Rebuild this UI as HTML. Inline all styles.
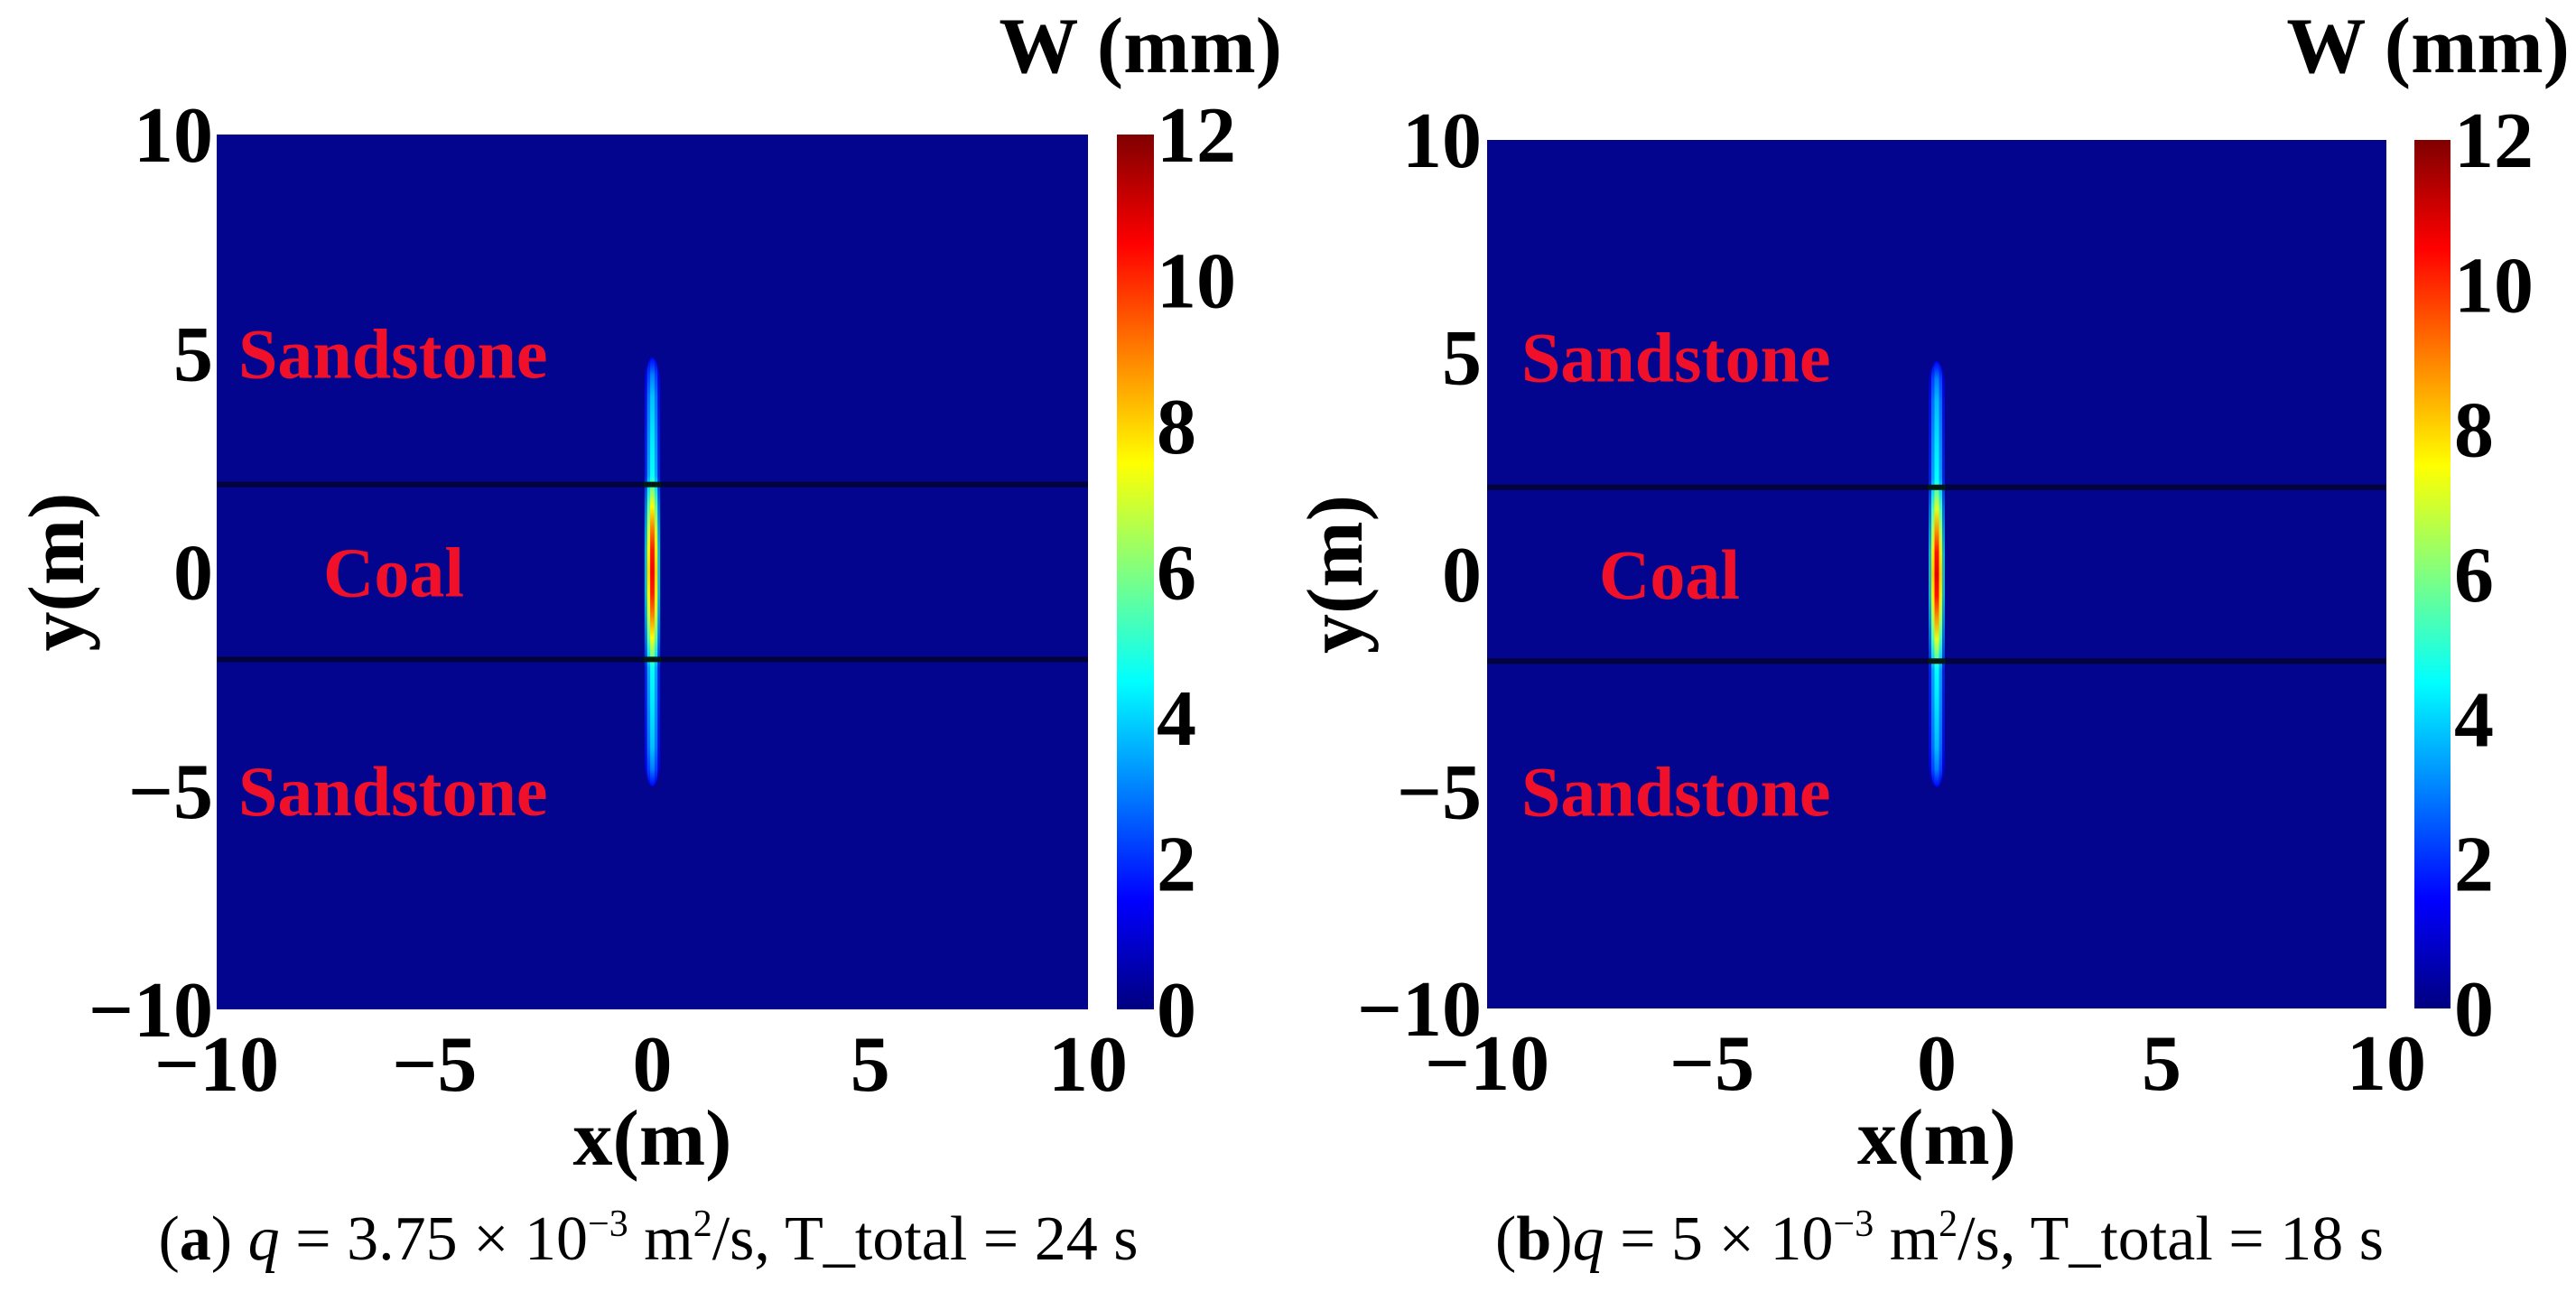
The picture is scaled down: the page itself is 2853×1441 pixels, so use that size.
<!DOCTYPE html>
<html><head><meta charset="utf-8"><style>
html,body{margin:0;padding:0;background:#fff;}
svg{display:block;}
.tk{font-family:"Liberation Serif",serif;font-weight:bold;font-size:88px;fill:#000;}
.lab{font-family:"Liberation Serif",serif;font-weight:bold;fill:#f0102a;font-size:78px;}
.cap{font-family:"Liberation Serif",serif;font-size:70px;fill:#000;}
</style></head><body>
<svg id="fig" width="2853" height="1441" viewBox="0 0 2853 1441" xmlns="http://www.w3.org/2000/svg">
<defs id="defs"></defs>
</svg>
<script>
// ---- data ----
const xTicks = [-10, -5, 0, 5, 10];
const yTicks = [-10, -5, 0, 5, 10];
const cbTicks = [0, 2, 4, 6, 8, 10, 12];
const layerBounds = [-2, 2];
const profYA = [-4.9, -4.5, -4, -3, -2.2, -2, -1.5, -1, -0.5, 0, 0.5, 1, 1.5, 2, 2.2, 3, 4, 4.5, 4.9];
const profWA = [1.5, 3, 3.8, 4.3, 4.6, 5.5, 7.5, 9, 10.2, 10.6, 10.2, 9, 7.5, 5.5, 4.6, 4.3, 3.8, 3, 1.5];
const profYB = [-4.9, -4.5, -4, -3, -2.2, -2, -1.5, -1, -0.5, 0, 0.5, 1, 1.5, 2, 2.2, 3, 4, 4.5, 4.9];
const profWB = [1.5, 3, 3.7, 4.2, 4.5, 5.3, 7.2, 8.8, 10.3, 10.8, 10.3, 8.8, 7.2, 5.3, 4.5, 4.2, 3.7, 3, 1.5];

const NS = "http://www.w3.org/2000/svg";
const svg = document.getElementById('fig');
const defs = document.getElementById('defs');
function mk(tag, attrs, parent){const e=document.createElementNS(NS,tag);for(const k in attrs)e.setAttribute(k,attrs[k]);(parent||svg).appendChild(e);return e;}
function jet(v){ // v in [0,12]
  let t=Math.max(0,Math.min(1,v/12));
  const f=x=>Math.max(0,Math.min(1,1.5-Math.abs(4*t-x)));
  const r=f(3),g=f(2),b=f(1);
  return `rgb(${Math.round(r*255)},${Math.round(g*255)},${Math.round(b*255)})`;
}
let gid=0;
function panel(cfg){
  const {L,R,T,B,cbL,cbR,cbLabX,yLabX,yTitleX,sandX,coalX,title,titleR,capX,profY,profW,key}=cfg;
  const sx=v=>L+(v+10)/20*(R-L);
  const sy=v=>B-(v+10)/20*(B-T);
  const g=mk('g',{});
  
  
  const bg=mk('rect',{x:L,y:T,width:R-L,height:B-T,fill:'#03058e'},g);
  
  
  layerBounds.forEach((b,i)=>{
    const ln=mk('line',{x1:L,x2:R,y1:sy(b),y2:sy(b),stroke:'#02033a',"stroke-width":6},g);
    
    
  });
  const layers=[[0.36,0.45,0.7],[0.24,0.75,1],[0.1,1,1]];
  const y0=profY[0],y1=profY[profY.length-1];
  layers.forEach((ly,li)=>{
    const id='gr'+(gid++);
    const lg=mk('linearGradient',{id:id,x1:0,y1:0,x2:0,y2:1},defs);
    for(let i=profY.length-1;i>=0;i--){
      const yy=profY[i];
      mk('stop',{offset:((y1-yy)/(y1-y0)).toFixed(4),"stop-color":jet(profW[i]*ly[1]),"stop-opacity":ly[2]},lg);
    }
    const w=ly[0]*(R-L)/20;
    const r=mk('rect',{x:sx(0)-w/2,y:sy(y1),width:w,height:sy(y0)-sy(y1),rx:w/2,ry:w*1.5,fill:`url(#${id})`},g);
    
    
  });
  layerBounds.forEach((b,i)=>{
    const ln=mk('line',{x1:sx(-0.2),x2:sx(0.2),y1:sy(b),y2:sy(b),stroke:'#001a10',"stroke-width":6},g);
    
    
  });
  yTicks.forEach(v=>{
    const t=mk('text',{x:yLabX,y:sy(v)+30,"text-anchor":"end",class:"tk"},g);
    t.textContent=(v<0?'\u2212':'')+Math.abs(v);
    
    
  });
  xTicks.forEach(v=>{
    const t=mk('text',{x:sx(v),y:B+90,"text-anchor":"middle",class:"tk"},g);
    t.textContent=(v<0?'\u2212':'')+Math.abs(v);
    
    
  });
  const xt=mk('text',{x:(L+R)/2,y:B+172,"text-anchor":"middle",class:"tk"},g);
  xt.textContent='x(m)';
  
  
  const yt=mk('text',{x:0,y:0,"text-anchor":"middle",class:"tk",transform:`translate(${yTitleX},${sy(0)}) rotate(-90)`},g);
  yt.textContent='y(m)';
  
  
  [[sandX,sy(5)+27,'start','Sandstone','sandstone-upper-label'],[coalX,sy(0)+27,'middle','Coal','coal-label'],[sandX,sy(-5)+27,'start','Sandstone','sandstone-lower-label']].forEach(a=>{
    const t=mk('text',{x:a[0],y:a[1],"text-anchor":a[2],class:"lab"},g);
    t.textContent=a[3];
    
    
  });
  const cid='cb'+(gid++);
  const cg=mk('linearGradient',{id:cid,x1:0,y1:1,x2:0,y2:0},defs);
  for(let i=0;i<=24;i++) mk('stop',{offset:i/24,"stop-color":jet(i/24*12)},cg);
  const cb=mk('rect',{x:cbL,y:T,width:cbR-cbL,height:B-T,fill:`url(#${cid})`},g);
  
  
  const cy=v=>B-v/12*(B-T);
  cbTicks.forEach(v=>{
    const t=mk('text',{x:cbLabX,y:cy(v)+30,"text-anchor":"start",class:"tk"},g);
    t.textContent=v;
    
    
  });
  const ct=mk('text',{x:titleR,y:80,"text-anchor":"end",class:"tk"},g);
  ct.textContent='W (mm)';
  
  
  const cap=mk('text',{x:capX,y:1395,"text-anchor":"middle",class:"cap"},g);
  
  
  cap.innerHTML=cfg.caption;
}
panel({key:'a',L:240,R:1205,T:149,B:1118,cbL:1237,cbR:1278,cbLabX:1281,yLabX:236,yTitleX:92,sandX:264,coalX:436,titleR:1420,capX:718,profY:profYA,profW:profWA,
 caption:'(<tspan font-weight="bold">a</tspan>) <tspan font-style="italic">q</tspan> = 3.75 × 10<tspan font-size="42" dy="-26">−3</tspan><tspan dy="26"> m</tspan><tspan font-size="42" dy="-26">2</tspan><tspan dy="26">/s, T_total = 24 s</tspan>'});
panel({key:'b',L:1647,R:2643,T:155,B:1117,cbL:2674,cbR:2714,cbLabX:2718,yTitleX:1508,yLabX:1641,sandX:1685,coalX:1849,titleR:2846,capX:2148,profY:profYB,profW:profWB,
 caption:'(<tspan font-weight="bold">b</tspan>)<tspan font-style="italic">q</tspan> = 5 × 10<tspan font-size="42" dy="-26">−3</tspan><tspan dy="26"> m</tspan><tspan font-size="42" dy="-26">2</tspan><tspan dy="26">/s, T_total = 18 s</tspan>'});
</script>
</body></html>
